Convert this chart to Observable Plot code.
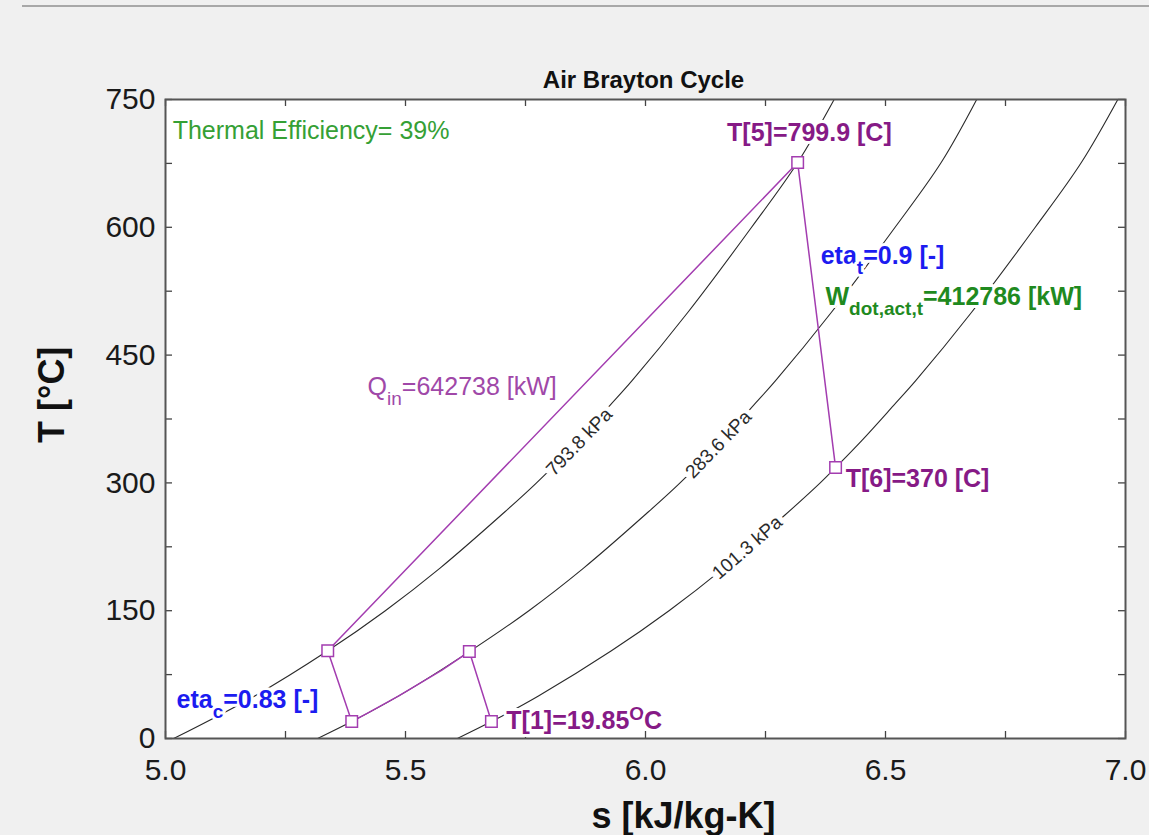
<!DOCTYPE html>
<html>
<head>
<meta charset="utf-8">
<script src="https://cdn.jsdelivr.net/npm/d3@7"></script>
<script src="https://cdn.jsdelivr.net/npm/@observablehq/plot@0.6"></script>
<style>
  html, body { margin: 0; padding: 0; background: #f0f0f0; overflow: hidden; }
  #topline { position: absolute; left: 22px; right: 0; top: 5px; height: 2px; background: #a8a8a8; z-index: 2; }
  #chart { position: absolute; left: 0; top: 0; z-index: 1; }
</style>
</head>
<body>
<div id="chart"></div>
<div id="topline"></div>
<script>
// ---- data ----
const chartTitle = "Air Brayton Cycle";
const xTitle = "s [kJ/kg-K]";
const yTitle = "T [°C]";
const xMajor = [5.0, 5.5, 6.0, 6.5, 7.0];
const xMinor = [5.0, 5.25, 5.5, 5.75, 6.0, 6.25, 6.5, 6.75, 7.0];
const yMajor = [0, 150, 300, 450, 600, 750];
const yMinor = [0, 75, 150, 225, 300, 375, 450, 525, 600, 675, 750];

// isobars (s [kJ/kg-K], T [°C])
const isobarNames = ["793.8 kPa", "283.6 kPa", "101.3 kPa"];
const iso793_s = [5.017, 5.186, 5.338, 5.458, 5.572, 5.699, 5.773, 5.860, 5.926, 5.972, 6.088, 6.221, 6.317, 6.393];
const iso793_T = [0, 50, 103, 150, 200, 262, 300, 350, 391, 420, 500, 600, 676, 750];
const iso284_s = [5.317, 5.388, 5.486, 5.633, 5.757, 5.871, 5.998, 6.072, 6.159, 6.225, 6.271, 6.387, 6.520, 6.616, 6.690];
const iso284_T = [0, 19.85, 50, 102, 150, 200, 262, 300, 350, 391, 420, 500, 600, 676, 750];
const iso101_s = [5.608, 5.679, 5.777, 5.929, 6.049, 6.163, 6.290, 6.364, 6.396, 6.451, 6.517, 6.563, 6.679, 6.812, 6.908, 6.984];
const iso101_T = [0, 19.85, 50, 103, 150, 200, 262, 300, 318, 350, 391, 420, 500, 600, 676, 750];
// isobar label positions (on the curves)
const isoLabelS = [5.862, 6.152, 6.212];
const isoLabelT = [348, 345, 224];

// cycle states 1..6
const stateNames = ["1", "2", "3", "4", "5", "6"];
const stateS = [5.679, 5.633, 5.388, 5.338, 6.317, 6.396];
const stateT = [19.85, 102, 19.85, 103, 676, 318];
// intercooler path 2 -> 3 along the 283.6 kPa isobar
const coolS = [5.575, 5.486, 5.422];
const coolT = [80, 50, 30];

// annotations
const noteText = [
  "Thermal Efficiency= 39%",
  "T[5]=799.9 [C]",
  "eta_{t}=0.9 [-]",
  "W_{dot,act,t}=412786 [kW]",
  "Q_{in}=642738 [kW]",
  "T[6]=370 [C]",
  "eta_{c}=0.83 [-]",
  "T[1]=19.85^{O}C"
];
const noteBold = [false, true, true, true, false, true, true, true];
const noteS = [5.015, 6.170, 6.365, 6.375, 5.421, 6.417, 5.023, 5.710];
const noteT = [713, 711, 566, 518, 413, 305, 45, 21];

// ---- build tables ----
const isoRows = [];
[[iso793_s, iso793_T], [iso284_s, iso284_T], [iso101_s, iso101_T]].forEach(([S, T], k) => {
  S.forEach((s, i) => isoRows.push({p: isobarNames[k], s, T: T[i]}));
});
const isoLabels = isobarNames.map((name, i) => ({name, s: isoLabelS[i], T: isoLabelT[i], i}));
const states = stateNames.map((n, i) => ({n, s: stateS[i], T: stateT[i]}));
const cyclePath = [
  states[0], states[1],
  ...coolS.map((s, i) => ({s, T: coolT[i]})),
  states[2], states[3], states[4], states[5]
];
const notes = noteText.map((t, i) => ({t, s: noteS[i], T: noteT[i], bold: noteBold[i], i}));

const purpleLine = "#a33db0";
const noteColors = ["#35a035", "#861a86", "#1c1cf0", "#1f8a1f", "#a048a8", "#861a86", "#1c1cf0", "#861a86"];
const isoRot = [-46, -46, -41];

const FONT = "Liberation Sans, Arial, sans-serif";
const innerW = 1125 - 165, innerH = 738 - 99;

const noteMark = (bold) => Plot.text(notes.filter(d => d.bold === bold), {
  x: "s", y: "T", text: "t",
  fill: d => noteColors[d.i], fontWeight: bold ? "bold" : "normal",
  fontSize: 25, textAnchor: "start", lineAnchor: "middle",
  stroke: "white", strokeWidth: 6, fontFamily: FONT
});

const plot = Plot.plot({
  width: 1149,
  height: 835,
  marginLeft: 165,
  marginRight: 24,
  marginTop: 99,
  marginBottom: 97,
  style: {background: "#f0f0f0", fontFamily: FONT, color: "#1a1a1a"},
  x: {domain: [5, 7], axis: null},
  y: {domain: [0, 750], axis: null},
  marks: [
    Plot.frame({fill: "white", stroke: null}),
    // inward ticks on all four sides
    Plot.tickX(xMinor, {x: d => d, insetTop: innerH - 7, stroke: "#444", strokeWidth: 1.3}),
    Plot.tickX(xMinor, {x: d => d, insetBottom: innerH - 7, stroke: "#444", strokeWidth: 1.3}),
    Plot.tickY(yMinor, {y: d => d, insetRight: innerW - 7, stroke: "#444", strokeWidth: 1.3}),
    Plot.tickY(yMinor, {y: d => d, insetLeft: innerW - 7, stroke: "#444", strokeWidth: 1.3}),
    // isobars
    Plot.line(isoRows, {x: "s", y: "T", z: "p", stroke: "#2a2a2a", strokeWidth: 1.1, curve: "catmull-rom"}),
    Plot.text(isoLabels, {
      x: "s", y: "T", text: "name", rotate: d => isoRot[d.i],
      fontSize: 19, fill: "#2a2a2a", stroke: "white", strokeWidth: 10,
      textAnchor: "middle", lineAnchor: "middle", fontFamily: FONT
    }),
    // cycle
    Plot.line(cyclePath, {x: "s", y: "T", stroke: purpleLine, strokeWidth: 1.5, curve: "linear"}),
    Plot.dot(states, {x: "s", y: "T", symbol: "square", r: 6.5, fill: "white", stroke: purpleLine, strokeWidth: 1.5}),
    // annotations
    noteMark(false),
    noteMark(true),
    Plot.frame({stroke: "#555", strokeWidth: 2}),
    // axes
    Plot.axisX({anchor: "bottom", ticks: xMajor, tickSize: 0, tickPadding: 20, tickFormat: d3.format(".1f"), fontSize: 30, label: null, fill: "#1a1a1a"}),
    Plot.axisY({anchor: "left", ticks: yMajor, tickSize: 0, tickPadding: 10, fontSize: 30, label: null, fill: "#1a1a1a"}),
    // titles
    Plot.text([chartTitle], {text: d => d, frameAnchor: "top", lineAnchor: "middle", dx: -2, dy: -19, fontSize: 24, fontWeight: "bold", fill: "#111", fontFamily: FONT}),
    Plot.text([xTitle], {text: d => d, frameAnchor: "bottom", lineAnchor: "middle", dx: 38, dy: 78, fontSize: 36, fontWeight: "bold", fill: "#111", fontFamily: FONT}),
    Plot.text([yTitle], {text: d => d, frameAnchor: "left", lineAnchor: "middle", dx: -113, dy: 24, rotate: -90, fontSize: 36, fontWeight: "bold", fill: "#111", fontFamily: FONT})
  ]
});

// subscripts / superscripts written as _{..} and ^{..}
const NS = "http://www.w3.org/2000/svg";
plot.querySelectorAll("text").forEach(t => {
  const s = t.textContent;
  if (!/[_^]\{/.test(s) || t.querySelector("tspan")) return;
  t.textContent = "";
  let cur = 0;
  const add = (str, mode) => {
    const sp = document.createElementNS(NS, "tspan");
    const target = mode === 1 ? 10 : mode === -1 ? -9 : 0;
    if (target !== cur) sp.setAttribute("dy", (target - cur) + "px");
    if (mode !== 0) sp.setAttribute("font-size", "76%");
    cur = target;
    sp.textContent = str;
    t.appendChild(sp);
  };
  const re = /([_^])\{([^}]*)\}/g;
  let last = 0, m;
  while ((m = re.exec(s))) {
    if (m.index > last) add(s.slice(last, m.index), 0);
    add(m[2], m[1] === "_" ? 1 : -1);
    last = re.lastIndex;
  }
  if (last < s.length) add(s.slice(last), 0);
});

document.getElementById("chart").appendChild(plot);
</script>
</body>
</html>
